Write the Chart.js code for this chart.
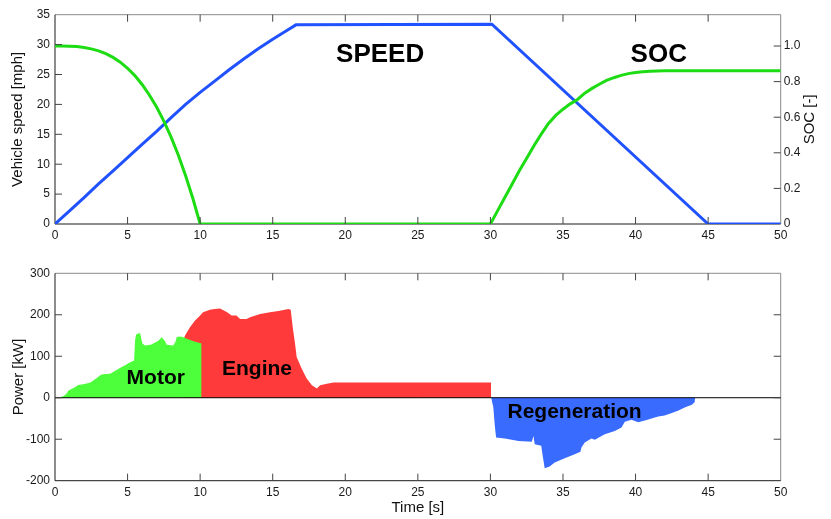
<!DOCTYPE html>
<html>
<head>
<meta charset="utf-8">
<script src="https://cdn.jsdelivr.net/npm/chart.js@4.4.0/dist/chart.umd.min.js"></script>
<style>
  html, body { margin: 0; padding: 0; background: #fff; }
  #wrap { position: relative; width: 831px; height: 519px; }
  #topBox { position: absolute; left: 0; top: 0; width: 831px; height: 250px; }
  #botBox { position: absolute; left: 0; top: 250px; width: 831px; height: 269px; }
</style>
</head>
<body>
<div id="wrap">
  <div id="topBox"><canvas id="speedChart"></canvas></div>
  <div id="botBox"><canvas id="powerChart"></canvas></div>
</div>
<script>
// ---- Drive-cycle data ----
const timeTicks = [0, 5, 10, 15, 20, 25, 30, 35, 40, 45, 50];
const speedTicks = [0, 5, 10, 15, 20, 25, 30, 35];
const socTicks = [0, 0.2, 0.4, 0.6, 0.8, 1.0];
const socTickLabels = ['0', '0.2', '0.4', '0.6', '0.8', '1.0'];
const powerTicks = [-200, -100, 0, 100, 200, 300];

// Vehicle speed [mph]
const speedT = [0, 1, 2, 3, 4, 5, 6, 7, 8, 9, 10, 11, 12, 13, 14, 15, 16, 16.6, 30.1, 45, 50];
const speedV = [0, 2.2, 4.4, 6.7, 8.9, 11.1, 13.3, 15.5, 17.8, 20.0, 22.0, 23.9, 25.8, 27.6, 29.3, 30.9, 32.4, 33.3, 33.4, 0, 0];

// Battery state of charge [-]
const socT = [0, 0.5, 1, 1.5, 2, 2.5, 3, 3.5, 4, 4.5, 5, 5.5, 6, 6.5, 7, 7.5, 8, 8.5, 9, 9.5, 10,
              30, 30.5, 31, 31.5, 32, 32.5, 33, 33.5, 34, 34.5, 35, 35.5, 36, 36.5, 37, 37.5, 38, 38.5,
              39, 39.5, 40, 40.5, 41, 41.5, 42, 50];
const socV = [1.0, 1.0, 0.999, 0.997, 0.992, 0.984, 0.973, 0.957, 0.936, 0.909, 0.875, 0.834, 0.784, 0.725, 0.657, 0.578, 0.488, 0.386, 0.271, 0.143, 0,
              0, 0.075, 0.15, 0.225, 0.30, 0.37, 0.44, 0.505, 0.565, 0.61, 0.645, 0.675, 0.70, 0.735, 0.762, 0.785, 0.807, 0.822,
              0.835, 0.845, 0.851, 0.855, 0.858, 0.86, 0.861, 0.861];

// Motor power [kW]
const motorT = [0, 0.35, 0.6, 0.8, 0.95, 1.15, 1.4, 1.6, 1.85, 2.1, 2.45, 2.9, 3.2, 3.5, 3.8, 4.1, 4.5, 4.8, 5.15, 5.45,
                5.52, 5.6, 5.86, 6.02, 6.2, 6.6, 7.1, 7.35, 7.55, 7.7, 8.15, 8.3, 8.4, 8.75, 9.1, 9.5, 10.1, 10.1];
const motorP = [0, 1, 4, 10, 18, 21, 26, 31, 32, 34, 37, 48, 56, 57, 58, 64, 72, 78, 85, 90,
                140, 153, 156, 131, 126, 128, 137, 146, 138, 128, 126, 135, 147, 147, 142, 137, 131, 0];

// Engine power [kW]
const engineT = [8.8, 8.85, 8.96, 9.3, 9.65, 10.0, 10.2, 10.67, 11.0, 11.37, 11.83, 12.17, 12.5, 12.75, 13.2, 13.44,
                 14.13, 14.82, 15.5, 16.08, 16.24, 16.38, 16.54, 16.65, 17.0, 17.35, 17.7, 18.04, 18.27, 18.73, 19.2, 30.05, 30.05];
const engineP = [0, 140, 150, 170, 186, 198, 206, 212, 214, 215, 207, 198, 198, 190, 190, 194,
                 202, 206, 210, 214, 212, 170, 130, 98, 70, 46, 30, 22, 30, 34, 37, 37, 0];

// Regenerative braking power [kW]
const regenT = [30.05, 30.2, 30.3, 30.39, 31.0, 31.93, 32.85, 32.97, 33.05, 33.5, 33.62, 33.74, 34.08, 34.43, 35.12,
                35.81, 36.2, 36.27, 36.5, 36.96, 37.19, 37.88, 38.57, 39.03, 39.26, 39.72, 40.18, 40.64, 41.1,
                41.56, 42.0, 42.5, 42.96, 43.42, 43.88, 44.07, 44.1];
const regenP = [0, -23, -67, -96, -98, -104, -106, -92, -112, -116, -144, -170, -166, -156, -146,
                -136, -130, -120, -108, -98, -101, -88, -80, -72, -58, -53, -59, -55, -50,
                -45, -43, -37, -31, -23, -17, -11, 0];

const pts = (t, v) => t.map((x, i) => ({ x, y: v[i] }));

Chart.defaults.font.family = '"Liberation Sans", Arial, Helvetica, sans-serif';
Chart.defaults.color = '#1a1a1a';

// Box frame, inward tick marks, zero line and in-plot annotations
const framePlugin = {
  id: 'frame',
  beforeDatasetsDraw(chart, args, o) {
    const { ctx, chartArea: a } = chart;
    ctx.save();
    ctx.lineWidth = 1;
    ctx.strokeStyle = '#8a8a8a';
    ctx.beginPath();
    ctx.moveTo(a.left, a.top); ctx.lineTo(a.right, a.top); ctx.lineTo(a.right, a.bottom);
    ctx.stroke();
    ctx.strokeStyle = '#1a1a1a';
    ctx.beginPath();
    ctx.moveTo(a.left, a.top); ctx.lineTo(a.left, a.bottom); ctx.lineTo(a.right, a.bottom);
    ctx.stroke();
    ctx.restore();
  },
  afterDatasetsDraw(chart, args, o) {
    const { ctx, chartArea: a, scales } = chart;
    ctx.save();
    ctx.lineWidth = 1;
    if (o.zeroLine) {
      const y0 = scales.y.getPixelForValue(0);
      ctx.strokeStyle = '#000';
      ctx.beginPath(); ctx.moveTo(a.left, y0); ctx.lineTo(a.right, y0); ctx.stroke();
    }
    const L = 7;
    ctx.strokeStyle = '#444';
    ctx.beginPath();
    o.xTicks.forEach(v => {
      const px = scales.x.getPixelForValue(v);
      ctx.moveTo(px, a.top); ctx.lineTo(px, a.top + L);
      ctx.moveTo(px, a.bottom); ctx.lineTo(px, a.bottom - L);
    });
    o.leftTicks.forEach(v => {
      const py = scales.y.getPixelForValue(v);
      ctx.moveTo(a.left, py); ctx.lineTo(a.left + L, py);
    });
    const rs = scales[o.rightScale];
    o.rightTicks.forEach(v => {
      const py = rs.getPixelForValue(v);
      ctx.moveTo(a.right, py); ctx.lineTo(a.right - L, py);
    });
    ctx.stroke();

    if (o.rightTitle) {
      ctx.fillStyle = '#111';
      ctx.font = '15px "Liberation Sans", Arial, sans-serif';
      ctx.textAlign = 'center';
      ctx.textBaseline = 'middle';
      ctx.translate(a.right + 29, (a.top + a.bottom) / 2);
      ctx.rotate(-Math.PI / 2);
      ctx.fillText(o.rightTitle, 0, 0);
      ctx.setTransform(1, 0, 0, 1, 0, 0);
    }

    ctx.fillStyle = '#000';
    ctx.textAlign = 'center';
    ctx.textBaseline = 'alphabetic';
    o.labels.forEach(l => {
      ctx.font = 'bold ' + l.size + 'px "Liberation Sans", Arial, sans-serif';
      ctx.fillText(l.text, scales.x.getPixelForValue(l.x), scales[l.axis].getPixelForValue(l.y));
    });
    ctx.restore();
  }
};

const fixedTicks = arr => scale => { scale.ticks = arr.map(v => ({ value: v })); };
const noGrid = { display: false, drawTicks: false, drawOnChartArea: false };

// ---- Speed / SOC ----
new Chart(document.getElementById('speedChart'), {
  type: 'line',
  data: {
    datasets: [
      { label: 'SOC', data: pts(socT, socV), yAxisID: 'y1', borderColor: '#1edc14', borderWidth: 3,
        pointRadius: 0, tension: 0, fill: false },
      { label: 'Speed', data: pts(speedT, speedV), yAxisID: 'y', borderColor: '#2152ff', borderWidth: 3,
        pointRadius: 0, tension: 0, fill: false }
    ]
  },
  options: {
    responsive: true, maintainAspectRatio: false, animation: false, devicePixelRatio: 1,
    layout: { padding: { top: 14.7, left: 0, right: 0, bottom: 0 } },
    plugins: {
      legend: { display: false }, tooltip: { enabled: false },
      frame: {
        xTicks: timeTicks.slice(1, -1), leftTicks: speedTicks.slice(1, -1),
        rightScale: 'y1', rightTicks: socTicks.slice(1), rightTitle: 'SOC [-]',
        labels: [
          { text: 'SPEED', x: 22.4, y: 27.1, axis: 'y', size: 26 },
          { text: 'SOC', x: 41.6, y: 27.1, axis: 'y', size: 26 }
        ]
      }
    },
    scales: {
      x: {
        type: 'linear', min: 0, max: 50,
        afterBuildTicks: fixedTicks(timeTicks),
        afterFit: s => { s.height = 26; },
        grid: noGrid, border: { display: false },
        ticks: { font: { size: 12 }, padding: 4, maxRotation: 0 }
      },
      y: {
        type: 'linear', position: 'left', min: 0, max: 35,
        afterBuildTicks: fixedTicks(speedTicks),
        afterFit: s => { s.width = 55; },
        grid: noGrid, border: { display: false },
        ticks: { font: { size: 12 }, padding: 5 },
        title: { display: true, text: 'Vehicle speed [mph]', font: { size: 15 }, color: '#111', padding: { top: 9.3, bottom: 0 } }
      },
      y1: {
        type: 'linear', position: 'right', min: 0, max: 1.176,
        afterBuildTicks: fixedTicks(socTicks),
        afterFit: s => { s.width = 50.3; },
        grid: noGrid, border: { display: false },
        ticks: { font: { size: 12 }, padding: 3, callback: (v, i) => socTickLabels[i] }
      }
    }
  },
  plugins: [framePlugin]
});

// ---- Power split ----
new Chart(document.getElementById('powerChart'), {
  type: 'line',
  data: {
    datasets: [
      { label: 'Motor', data: pts(motorT, motorP), backgroundColor: '#4cff3a', borderColor: 'rgba(0,0,0,0)',
        borderWidth: 0, pointRadius: 0, tension: 0, fill: 'origin' },
      { label: 'Engine', data: pts(engineT, engineP), backgroundColor: '#ff3a3a', borderColor: 'rgba(0,0,0,0)',
        borderWidth: 0, pointRadius: 0, tension: 0, fill: 'origin' },
      { label: 'Regeneration', data: pts(regenT, regenP), backgroundColor: '#3a6bff', borderColor: 'rgba(0,0,0,0)',
        borderWidth: 0, pointRadius: 0, tension: 0, fill: 'origin' }
    ]
  },
  options: {
    responsive: true, maintainAspectRatio: false, animation: false, devicePixelRatio: 1,
    layout: { padding: { top: 23.3, left: 0, right: 50.3, bottom: 0 } },
    plugins: {
      legend: { display: false }, tooltip: { enabled: false },
      frame: {
        zeroLine: true,
        xTicks: timeTicks.slice(1, -1), leftTicks: powerTicks.slice(1, -1),
        rightScale: 'y', rightTicks: powerTicks.slice(1, -1),
        labels: [
          { text: 'Motor', x: 6.94, y: 32, axis: 'y', size: 21 },
          { text: 'Engine', x: 13.92, y: 53.8, axis: 'y', size: 21 },
          { text: 'Regeneration', x: 35.8, y: -48.2, axis: 'y', size: 21 }
        ]
      }
    },
    scales: {
      x: {
        type: 'linear', min: 0, max: 50,
        afterBuildTicks: fixedTicks(timeTicks),
        afterFit: s => { s.height = 38.3; },
        grid: noGrid, border: { display: false },
        ticks: { font: { size: 12 }, padding: 4.6, maxRotation: 0 },
        title: { display: true, text: 'Time [s]', font: { size: 15 }, color: '#111', padding: { top: 0, bottom: 2 } }
      },
      y: {
        type: 'linear', position: 'left', min: -200, max: 300,
        afterBuildTicks: fixedTicks(powerTicks),
        afterFit: s => { s.width = 55; },
        grid: noGrid, border: { display: false },
        ticks: { font: { size: 12 }, padding: 5 },
        title: { display: true, text: 'Power [kW]', font: { size: 15 }, color: '#111', padding: { top: 10.3, bottom: 0 } }
      }
    }
  },
  plugins: [framePlugin]
});
</script>
</body>
</html>
